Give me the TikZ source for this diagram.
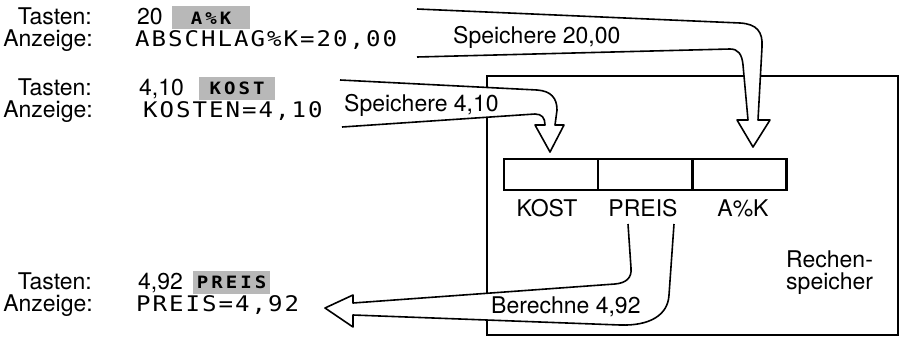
\documentclass[tikz,border=0pt]{standalone}
\usepackage{fontspec}
\setmainfont{TeX Gyre Heros}
\newfontfamily\lcdfont[FakeStretch=1.12]{DejaVu Sans Mono}
\def\lcdloop#1{\ifx\relax#1\else\makebox[16.5pt]{#1}\expandafter\lcdloop\fi}
\def\keyloop#1{\ifx\relax#1\else\makebox[14.5pt]{#1}\expandafter\keyloop\fi}
\newcommand\lcd[1]{{\lcdfont\fontsize{21.5}{21.5}\selectfont\lcdloop#1\relax}}
\newcommand\keytxt[1]{{\lcdfont\bfseries\fontsize{17}{17}\selectfont\keyloop#1\relax}}
\tikzset{
  lbl/.style={inner sep=0pt, font=\fontsize{23}{23}\selectfont},
  lcdtxt/.style={inner sep=0pt, anchor=base west},
  keybox/.style={fill=black!28, inner sep=0pt, minimum height=23pt},
  hollow/.style={draw=black, fill=white, line width=1.6pt, line join=round},
  cell/.style={draw, line width=2.5pt, minimum width=94pt, minimum height=31pt, inner sep=0pt},
  frame/.style={draw, line width=2pt, minimum width=411pt, minimum height=259pt, inner sep=0pt},
}
\begin{document}
\begin{tikzpicture}[x=1pt,y=-1pt]
\useasboundingbox (0,0) rectangle (901,337);
% memory frame
\node[frame] (mem) at (692.5,205.5) {};
% registers
\node[cell] (cK) at (551,174.5) {};
\node[cell] (cP) at (645,174.5) {};
\node[cell] (cA) at (739.5,174.5) {};
\node[lbl, anchor=base] (lK) at (547,216) {KOST};
\node[lbl, anchor=base] (lP) at (643,216) {PREIS};
\node[lbl, anchor=base] (lA) at (743,216) {A\%K};
\node[lbl, anchor=base west] (r1) at (786,267) {Rechen-};
\node[lbl, anchor=base west] (r2) at (786,289) {speicher};
% arrow 1: Speichere 20,00
\draw[hollow] (417,9) -- (740,23) .. controls (757,24) and (763,32) .. (762,47)
  -- (758,120) -- (770,120) -- (753,147) -- (737,120) -- (748,120)
  -- (743,65) .. controls (742,54) and (738,49) .. (730,49) -- (417,57);
% arrow 2: Speichere 4,10
\draw[hollow] (340,80) -- (537,90) .. controls (551,91) and (557,98) .. (557,110)
  -- (555,125) -- (564,125) -- (550,152) -- (535,125) -- (545,125)
  .. controls (545,118) and (542,114) .. (535,114) -- (342,127);
% arrow 3: Berechne 4,92
\draw[hollow] (628,224) -- (631,268) .. controls (632,278) and (626,283) .. (615,284)
  -- (353,303) -- (353,295) -- (325,308) -- (353,327) -- (353,315)
  -- (620,325) .. controls (650,326) and (668,315) .. (669,295) -- (674,224);
\node[lbl, anchor=base west] (s1) at (453,44) {Speichere 20,00};
\node[lbl, anchor=base west] (s2) at (344,111) {Speichere 4,10};
\node[lbl, anchor=base west] (s3) at (491,313) {Berechne 4,92};
% row 1
\node[lbl, anchor=base east] (t1) at (92,25) {Tasten:};
\node[lbl, anchor=base east] (a1) at (93,47) {Anzeige:};
\node[lbl, anchor=base west] (n1) at (137,25) {20};
\node[keybox, minimum width=78pt] (k1) at (211,18) {\keytxt{A\%K}};
\node[lcdtxt] (d1) at (134,47) {\lcd{ABSCHLAG\%K=20,00}};
% row 2
\node[lbl, anchor=base east] (t2) at (92,95) {Tasten:};
\node[lbl, anchor=base east] (a2) at (93,117) {Anzeige:};
\node[lbl, anchor=base west] (n2) at (139,95) {4,10};
\node[keybox, minimum width=76pt] (k2) at (237,88) {\keytxt{KOST}};
\node[lcdtxt] (d2) at (142,117) {\lcd{KOSTEN=4,10}};
% row 3
\node[lbl, anchor=base east] (t3) at (92,289) {Tasten:};
\node[lbl, anchor=base east] (a3) at (93,311) {Anzeige:};
\node[lbl, anchor=base west] (n3) at (138,289) {4,92};
\node[keybox, minimum width=77pt] (k3) at (231.5,282.5) {\keytxt{PREIS}};
\node[lcdtxt] (d3) at (135,311) {\lcd{PREIS=4,92}};
\end{tikzpicture}
\end{document}
